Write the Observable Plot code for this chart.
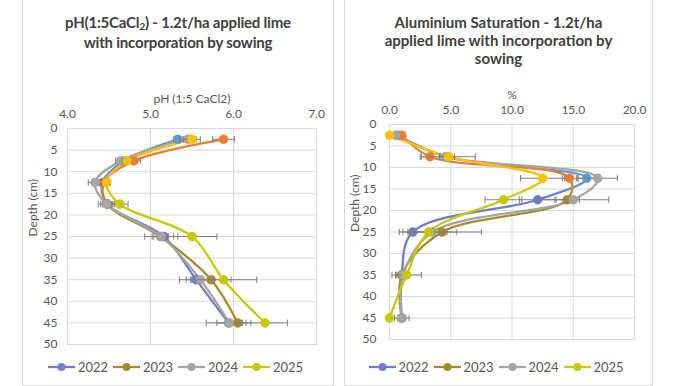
<!DOCTYPE html>
<html><head><meta charset="utf-8">
<script src="https://cdn.jsdelivr.net/npm/d3@7"></script>
<script src="https://cdn.jsdelivr.net/npm/@observablehq/plot@0.6"></script>
<style>
body{margin:0;background:#fff;font-family:Lato,"Liberation Sans",sans-serif;}
.panel{position:absolute;top:-1px;height:387px;border:1px solid #d9d9d9;box-sizing:border-box;background:#fff;overflow:hidden}
.title{position:absolute;left:0;width:100%;text-align:center;font-weight:bold;font-size:15px;color:#404040}
.title sub{font-size:10px;line-height:0;vertical-align:-2px}
.chart{position:absolute;left:0}
.legend{position:absolute;left:0;width:100%;display:flex;justify-content:center;font-size:13px;color:#595959}
.legend .item{display:inline-flex;align-items:center;width:65px}
.legend svg{margin-right:3px}
</style></head><body>
<div id="p1" class="panel" style="left:22px;width:312px">
  <div class="title" style="top:12px;line-height:20px;letter-spacing:-0.2px">pH(1:5CaCl<sub>2</sub>) - 1.2t/ha applied lime<br>with incorporation by sowing</div>
  <div class="chart" id="c1" style="top:80px"></div>
  <div class="legend" id="l1" style="top:359px"></div>
</div>
<div id="p2" class="panel" style="left:344px;width:309px">
  <div class="title" style="top:13px;line-height:18px">Aluminium Saturation - 1.2t/ha<br>applied lime with incorporation by<br>sowing</div>
  <div class="chart" id="c2" style="top:76px"></div>
  <div class="legend" id="l2" style="top:359px"></div>
</div>
<script>
// ---- data ----
const depths = [2.5, 7.5, 12.5, 17.5, 25, 35, 45];
const years = ["2022", "2023", "2024", "2025"];
const yTicks = [0, 5, 10, 15, 20, 25, 30, 35, 40, 45, 50];

const phTicks = [4.0, 5.0, 6.0, 7.0];
const ph2022 = [5.33, 4.68, 4.42, 4.48, 5.16, 5.55, 5.94];
const ph2023 = [5.88, 4.80, 4.44, 4.48, 5.12, 5.73, 6.05];
const ph2024 = [5.45, 4.64, 4.33, 4.47, 5.13, 5.60, 5.95];
const ph2025 = [5.50, 4.72, 4.47, 4.63, 5.50, 5.88, 6.38];
const phErr2022 = [0.05, 0.08, 0.05, 0.08, 0.12, 0.20, 0.27];
const phErr2023 = [0.13, 0.08, 0.06, 0.06, 0.10, 0.24, 0.10];
const phErr2024 = [0.10, 0.06, 0.08, 0.10, 0.20, 0.17, 0.15];
const phErr2025 = [0.10, 0.06, 0.05, 0.10, 0.30, 0.40, 0.27];

const alTicks = [0, 5, 10, 15, 20];
const al2022 = [0.7, 4.6, 16.1, 12.1, 1.9, 1.0, 1.0];
const al2023 = [1.0, 3.3, 14.7, 14.5, 4.3, 1.0, 1.0];
const al2024 = [0.5, 4.7, 17.0, 15.0, 3.5, 1.1, 1.0];
const al2025 = [0.0, 4.8, 12.5, 9.3, 3.2, 1.4, 0.0];
const alErr2022 = [0.2, 0.5, 0.8, 1.5, 1.1, 0.5, 0.3];
const alErr2023 = [0.3, 0.8, 0.6, 1.0, 3.2, 0.5, 0.3];
const alErr2024 = [0.3, 0.6, 1.6, 2.9, 2.0, 0.5, 0.6];
const alErr2025 = [0.1, 2.2, 1.8, 1.5, 1.5, 1.2, 0.1];

// ---- styles ----
const topColors = ["#5B9BD5", "#ED7D31", "#A5A5A5", "#FFC000"];
const botColors = ["#6B7DCB", "#A88A2C", "#A5A5A5", "#C8C800"];
const gridColor = "#d9d9d9";
const textColor = "#595959";
const fontFamily = "Lato, 'Liberation Sans', sans-serif";

function rowsFor(vals, errs) {
  return depths.map((d, i) => ({depth: d, v: vals[i], e: errs[i]}));
}

function makeChart(cfg) {
  const {id, series, errors, xDomain, xTicks, xLabel, width, height,
         marginLeft, marginRight, marginTop, marginBottom, yPad, gradFrom, gradTo} = cfg;
  const ypx = d => marginTop + d / 50 * (height - marginTop - marginBottom);
  const defs = () => {
    const g = d3.create("svg:defs");
    years.forEach((yr, i) => {
      const lg = g.append("linearGradient").attr("id", `${id}-g${yr}`)
        .attr("gradientUnits", "userSpaceOnUse")
        .attr("x1", 0).attr("x2", 0).attr("y1", ypx(gradFrom)).attr("y2", ypx(gradTo));
      lg.append("stop").attr("offset", 0).attr("stop-color", topColors[i]);
      lg.append("stop").attr("offset", 1).attr("stop-color", botColors[i]);
    });
    return g.node();
  };
  const marks = [
    defs,
    Plot.gridX(xTicks, {stroke: gridColor, strokeOpacity: 1}),
    Plot.gridY(yTicks, {stroke: gridColor, strokeOpacity: 1}),
    Plot.frame({stroke: gridColor}),
    Plot.axisX(xTicks, {anchor: "top", tickSize: 0, tickPadding: 11, tickFormat: d3.format(".1f"), label: null, fontSize: 12, fill: textColor}),
    Plot.axisY(yTicks, {anchor: "left", tickSize: 0, tickPadding: yPad, label: null, fontSize: 12, fill: textColor}),
    Plot.text([xLabel], {frameAnchor: "top", dy: -34, text: d => d, fontSize: 12, fill: textColor}),
    Plot.text(["Depth (cm)"], {frameAnchor: "left", dx: -34, rotate: -90, text: d => d, fontSize: 12, fill: textColor})
  ];
  years.forEach((yr, i) => {
    const rows = rowsFor(series[i], errors[i]);
    const paint = `url(#${id}-g${yr})`;
    marks.push(Plot.line(rows, {x: "v", y: "depth", curve: "catmull-rom", stroke: paint, strokeWidth: 2.25}));
  });
  years.forEach((yr, i) => {
    const rows = rowsFor(series[i], errors[i]);
    const paint = `url(#${id}-g${yr})`;
    marks.push(
      Plot.link(rows, {x1: d => d.v - d.e, x2: d => d.v + d.e, y1: "depth", y2: "depth", stroke: "#7f7f7f", strokeWidth: 1}),
      Plot.link(rows, {x1: d => d.v - d.e, x2: d => d.v - d.e, y1: d => d.depth - 0.75, y2: d => d.depth + 0.75, stroke: "#7f7f7f", strokeWidth: 1}),
      Plot.link(rows, {x1: d => d.v + d.e, x2: d => d.v + d.e, y1: d => d.depth - 0.75, y2: d => d.depth + 0.75, stroke: "#7f7f7f", strokeWidth: 1}),
      Plot.dot(rows, {x: "v", y: "depth", r: 4.5, fill: paint, stroke: paint, strokeWidth: 0.5})
    );
  });
  const svg = Plot.plot({
    width, height, marginLeft, marginRight, marginTop, marginBottom,
    style: {fontFamily, fontSize: "12px", color: textColor, background: "transparent", overflow: "visible"},
    x: {domain: xDomain},
    y: {domain: [0, 50], reverse: true},
    marks
  });
  document.getElementById(id).appendChild(svg);
}

function makeLegend(id) {
  const el = d3.select("#" + id);
  years.forEach((yr, i) => {
    const item = el.append("span").attr("class", "item");
    const s = item.append("svg").attr("width", 27).attr("height", 10);
    s.append("line").attr("x1", 0).attr("x2", 27).attr("y1", 5).attr("y2", 5)
      .attr("stroke", botColors[i]).attr("stroke-width", 2.25);
    s.append("circle").attr("cx", 13.5).attr("cy", 5).attr("r", 4).attr("fill", botColors[i]);
    item.append("span").text(yr);
  });
}

makeChart({
  id: "c1",
  series: [ph2022, ph2023, ph2024, ph2025],
  errors: [phErr2022, phErr2023, phErr2024, phErr2025],
  xDomain: [4, 7], xTicks: phTicks, xLabel: "pH (1:5 CaCl2)",
  width: 310, height: 270, marginLeft: 44, marginRight: 17, marginTop: 48, marginBottom: 6,
  yPad: 10, gradFrom: 13.5, gradTo: 17
});
makeChart({
  id: "c2",
  series: [al2022, al2023, al2024, al2025],
  errors: [alErr2022, alErr2023, alErr2024, alErr2025],
  xDomain: [0, 20], xTicks: alTicks, xLabel: "%",
  width: 307, height: 269, marginLeft: 44, marginRight: 18, marginTop: 48, marginBottom: 6,
  yPad: 13, gradFrom: 13.5, gradTo: 17.5
});
makeLegend("l1");
makeLegend("l2");
</script>
</body></html>
